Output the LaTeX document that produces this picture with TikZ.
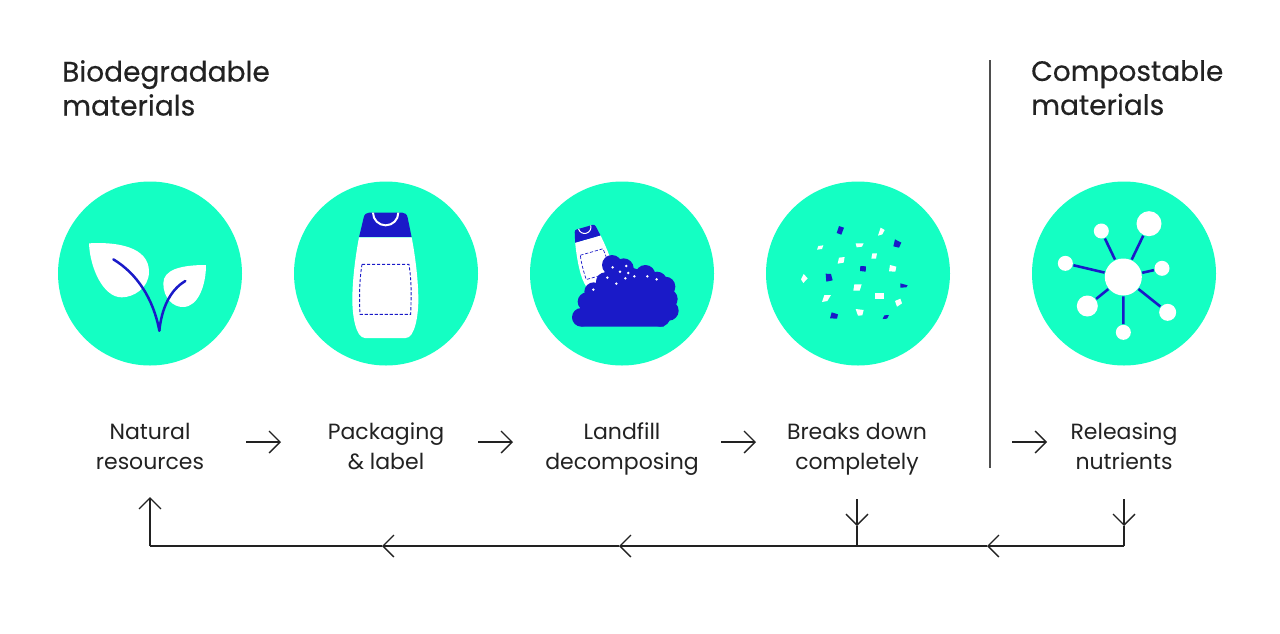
\documentclass[tikz,border=0pt]{standalone}
\usepackage{fontspec}
\setmainfont{Poppins}
\newfontfamily\titlefont[FakeBold=0.35]{Poppins}
\usetikzlibrary{arrows.meta}
\definecolor{mint}{HTML}{14FFC3}
\definecolor{ink}{HTML}{1A1AC8}
\definecolor{txt}{HTML}{222222}
\tikzset{
  disc/.style={circle,fill=mint,minimum size=184pt,inner sep=0pt},
  label/.style={align=center,text=txt,font=\fontsize{22}{30}\selectfont,inner sep=0pt},
  title/.style={align=left,text=txt,anchor=north west,font=\titlefont\fontsize{28}{34}\selectfont,inner sep=0pt},
  flow/.style={draw=txt,line width=1.3pt,-{Straight Barb[length=11pt,width=22pt,line width=1.3pt]}},
  plain/.style={draw=txt,line width=1.3pt},
  mol/.style={circle,fill=white,inner sep=0pt},
  bond/.style={draw=ink,line width=2.6pt},
  stem/.style={draw=ink,line width=2.5pt,line cap=round},
  zoomA/.style={shift={(#1,175)},scale=1/3},
}
\newcommand{\bottle}[2]{%
  \fill[white] (222,187) .. controls (210,250) and (202,320) .. (202,375)
     .. controls (202,420) and (212,489) .. (240,489) -- (362,489)
     .. controls (390,489) and (400,420) .. (400,375)
     .. controls (400,320) and (392,250) .. (380,187) -- cycle;
  \begin{scope}
  \clip (222,187) -- (236,128) .. controls (238,118) and (244,113) .. (252,113) -- (352,113)
     .. controls (360,113) and (366,118) .. (368,128) -- (380,187) -- cycle;
  \fill[ink] (200,100) rectangle (400,187);
  \draw[white,line width=#1] (302,113) circle[radius=38];
  \end{scope}
  \draw[ink,line width=#2,dash pattern=on 3.2pt off 1.8pt]
     (231,268) -- (372,268) .. controls (378,310) and (380,340) .. (377,418) -- (225,418)
     .. controls (222,360) and (224,310) .. (231,268) -- cycle;
}
\newcommand{\quadbit}[5]{\fill[#1] #2 -- #3 -- #4 -- #5 -- cycle;}
\begin{document}
\begin{tikzpicture}[x=1pt,y=-1pt]
\useasboundingbox (0,0) rectangle (1280,633);
\fill[white] (0,0) rectangle (1280,633);

\node[title] (tbio) at (62,60) {Biodegradable\\materials};
\node[title] (tcom) at (1031,60) {Compostable\\materials};

\coordinate (sepT) at (990,60);
\coordinate (sepB) at (990,468);
\draw[draw=txt!80,line width=1.5pt] (sepT) -- (sepB);

\node[disc] (d1) at (150,273.5) {};
\node[disc] (d2) at (386,273.5) {};
\node[disc] (d3) at (622,273.5) {};
\node[disc] (d4) at (858,273.5) {};
\node[disc] (d5) at (1124,273.5) {};

% leaves
\begin{scope}[zoomA=50]
  \fill[white] (117,205) .. controls (200,200) and (297,215) .. (297,290)
     .. controls (297,340) and (250,367) .. (215,367)
     .. controls (160,367) and (120,280) .. (117,205) -- cycle;
  \fill[white] (468,270) .. controls (390,270) and (340,285) .. (340,325)
     .. controls (340,370) and (370,397) .. (400,396)
     .. controls (445,395) and (468,330) .. (468,270) -- cycle;
  \draw[stem] (190,253) .. controls (260,295) and (310,370) .. (328,467);
  \draw[stem] (406,318) .. controls (360,345) and (335,400) .. (328,467);
\end{scope}

% bottle
\begin{scope}[zoomA=285]
  \bottle{2pt}{.9pt}
\end{scope}

% landfill
\begin{scope}[zoomA=522]
  \begin{scope}[shift={(198,192)},rotate=16,scale=.5,shift={(-302,-187)}]
    \bottle{1pt}{.7pt}
  \end{scope}
  \fill[ink] (178,455) -- (425,455) -- (450,340) -- (370,290) -- (270,260) -- (215,340) -- (178,400) -- cycle;
  \foreach \cx/\cy/\r in {270/270/30,305/280/30,370/300/30,405/320/30,430/335/30,437/372/30,440/407/30,415/425/30,178/427/28,195/380/28,215/350/28,250/320/28}
    {\fill[ink] (\cx,\cy) circle[radius=\r];}
  \foreach \cx/\cy in {272/277,313/273,294/290,319/294,337/304,376/304,404/313,256/308,310/310,283/326,214/344}
    {\fill[white] (\cx,\cy) circle[radius=4.2];}
\end{scope}

% fragments
\begin{scope}[zoomA=758]
  \quadbit{ink}{(243,153)}{(258,158)}{(250,179)}{(236,174)}
  \quadbit{ink}{(411,193)}{(430,203)}{(423,218)}{(406,214)}
  \quadbit{ink}{(307,273)}{(324,274)}{(323,290)}{(306,288)}
  \quadbit{ink}{(203,296)}{(219,297)}{(224,316)}{(205,320)}
  \quadbit{ink}{(427,325)}{(449,331)}{(445,337)}{(427,338)}
  \quadbit{ink}{(221,412)}{(240,418)}{(237,431)}{(216,430)}
  \quadbit{ink}{(379,421)}{(393,420)}{(387,431)}{(374,432)}
  \quadbit{white}{(368,158)}{(380,165)}{(373,178)}{(360,182)}
  \quadbit{white}{(181,213)}{(196,211)}{(192,222)}{(177,224)}
  \quadbit{white}{(293,205)}{(317,205)}{(312,215)}{(296,217)}
  \quadbit{white}{(243,248)}{(260,246)}{(257,263)}{(239,266)}
  \quadbit{white}{(343,235)}{(357,235)}{(354,251)}{(340,251)}
  \quadbit{white}{(396,270)}{(415,275)}{(412,290)}{(393,289)}
  \quadbit{white}{(137,297)}{(149,310)}{(136,324)}{(129,313)}
  \quadbit{white}{(289,328)}{(311,328)}{(305,347)}{(286,347)}
  \quadbit{white}{(199,360)}{(219,360)}{(208,378)}{(192,381)}
  \quadbit{white}{(351,353)}{(378,353)}{(378,372)}{(351,372)}
  \quadbit{white}{(411,378)}{(427,371)}{(432,385)}{(417,395)}
  \quadbit{white}{(293,402)}{(317,405)}{(313,421)}{(300,422)}
\end{scope}

% molecule
\begin{scope}[zoomA=1024]
  \node[mol,minimum size=37pt] (m0) at (298,306) {};
  \node[mol,minimum size=25pt] (m1) at (375,146) {};
  \node[mol,minimum size=15pt] (m2) at (232,168) {};
  \node[mol,minimum size=15pt] (m3) at (124,265) {};
  \node[mol,minimum size=15pt] (m4) at (414,280) {};
  \node[mol,minimum size=17pt] (m5) at (431,412) {};
  \node[mol,minimum size=15pt] (m6) at (298,472) {};
  \node[mol,minimum size=21pt] (m7) at (190,393) {};
  \foreach \n in {1,...,7} {\draw[bond,shorten >=.6pt,shorten <=.6pt] (m0) -- (m\n);}
\end{scope}

% labels
\node[label] (l1) at (150,448.5) {\strut Natural\\\strut resources};
\node[label] (l2) at (386,448.5) {\strut Packaging\\\strut\&\ label};
\node[label] (l3) at (622,448.5) {\strut Landfill\\\strut decomposing};
\node[label] (l4) at (857,448.5) {\strut Breaks down\\\strut completely};
\node[label] (l5) at (1124,448.5) {\strut Releasing\\\strut nutrients};

% forward arrows
\coordinate (a1s) at (246,442); \coordinate (a1e) at (281,442);
\coordinate (a2s) at (478,442); \coordinate (a2e) at (513,442);
\coordinate (a3s) at (721,442); \coordinate (a3e) at (756,442);
\coordinate (a4s) at (1012,442); \coordinate (a4e) at (1047,442);
\draw[flow] (a1s) -- (a1e);
\draw[flow] (a2s) -- (a2e);
\draw[flow] (a3s) -- (a3e);
\draw[flow] (a4s) -- (a4e);

% return line
\coordinate (r1) at (1124,499);
\coordinate (r1m) at (1124,526);
\coordinate (corner) at (1124,546);
\coordinate (r2) at (857,499);
\coordinate (r2m) at (857,526);
\coordinate (junction) at (857,546);
\coordinate (c1) at (987,546);
\coordinate (c2) at (619,546);
\coordinate (c3) at (382,546);
\coordinate (cornerL) at (150,546);
\coordinate (up) at (150,497);
\draw[flow] (r1) -- (r1m);
\draw[plain] (r1m) -- (corner);
\draw[flow] (r2) -- (r2m);
\draw[plain] (r2m) -- (junction);
\draw[flow] (corner) -- (c1);
\draw[plain] (c1) -- (junction);
\draw[flow] (junction) -- (c2);
\draw[flow] (c2) -- (c3);
\draw[plain] (c3) -- (cornerL);
\draw[flow] (cornerL) -- (up);
\end{tikzpicture}
\end{document}
